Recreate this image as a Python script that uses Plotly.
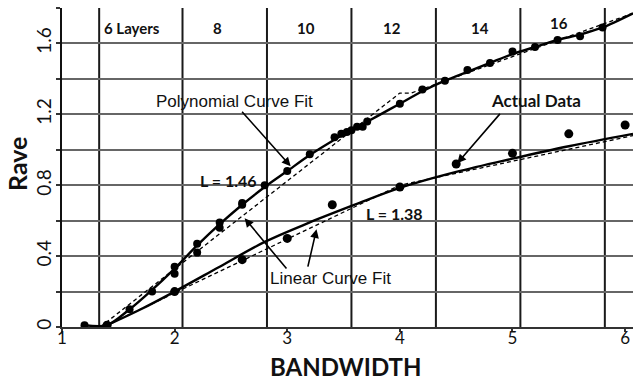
import plotly.graph_objects as go

# ---- data ----
upper_pts_x = [1.2, 1.4, 1.6, 1.8, 2.0, 2.0, 2.2, 2.2, 2.4, 2.4, 2.6, 2.6, 2.8, 3.0, 3.2,
               3.42, 3.48, 3.53, 3.57, 3.62, 3.67, 3.71, 4.0, 4.2, 4.4, 4.6, 4.8, 5.0,
               5.2, 5.4, 5.6, 5.8]
upper_pts_y = [0.01, 0.01, 0.10, 0.20, 0.34, 0.30, 0.47, 0.42, 0.59, 0.56, 0.70, 0.69, 0.80,
               0.88, 0.975, 1.07, 1.09, 1.10, 1.11, 1.13, 1.13, 1.16, 1.26, 1.34, 1.39, 1.45,
               1.49, 1.555, 1.58, 1.62, 1.64, 1.69]

lower_pts_x = [1.4, 2.0, 2.6, 3.0, 3.4, 4.0, 4.5, 5.0, 5.5, 6.0]
lower_pts_y = [0.01, 0.20, 0.38, 0.50, 0.69, 0.79, 0.92, 0.98, 1.09, 1.14]

upper_poly_x = [1.2, 1.4, 1.6, 1.8, 2.0, 2.2, 2.4, 2.6, 2.8, 3.0, 3.2, 3.4, 3.6, 3.8,
                4.0, 4.2, 4.4, 4.6, 4.8, 5.0, 5.2, 5.4, 5.6, 5.8, 6.07]
upper_poly_y = [0.01, 0.01, 0.10, 0.21, 0.33, 0.46, 0.58, 0.69, 0.79, 0.88, 0.97, 1.05,
                1.12, 1.19, 1.26, 1.33, 1.39, 1.44, 1.49, 1.54, 1.58, 1.62, 1.65, 1.69, 1.77]

lower_poly_x = [1.4, 1.7, 2.0, 2.4, 2.8, 3.2, 3.6, 4.0, 4.5, 5.0, 5.5, 6.07]
lower_poly_y = [0.01, 0.10, 0.20, 0.34, 0.48, 0.59, 0.69, 0.785, 0.875, 0.95, 1.02, 1.09]

upper_lin_x = [1.34, 4.0, 4.1, 6.07]
upper_lin_y = [0.0, 1.32, 1.32, 1.77]

lower_lin_x = [1.4, 4.0, 6.07]
lower_lin_y = [0.01, 0.80, 1.08]

layer_bounds = [1.33, 2.07, 2.82, 3.57, 4.32, 5.07, 5.82]
layer_labels = ["6 Layers", "8", "10", "12", "14", "16"]
layer_label_x = [1.62, 2.38, 3.17, 3.93, 4.71, 5.41]
layer_label_y = [1.685, 1.685, 1.685, 1.685, 1.685, 1.713]

y_ticks = [0, 0.2, 0.4, 0.6, 0.8, 1.0, 1.2, 1.4, 1.6, 1.8]
y_tick_text = ["0", "", "0.4", "", "0.8", "", "1.2", "", "1.6", ""]
x_ticks = [1, 2, 3, 4, 5, 6]
x_tick_text = ["1", "2", "3", "4", "5", "6"]

CAL = "Lato, 'Open Sans', sans-serif"
ARIAL = "'Liberation Sans', Arial, sans-serif"

fig = go.Figure()

fig.add_trace(go.Scatter(x=upper_lin_x, y=upper_lin_y, mode="lines",
                         line=dict(color="black", width=1.3, dash="4px,3px")))
fig.add_trace(go.Scatter(x=lower_lin_x, y=lower_lin_y, mode="lines",
                         line=dict(color="black", width=1.3, dash="4px,3px")))
fig.add_trace(go.Scatter(x=upper_poly_x, y=upper_poly_y, mode="lines",
                         line=dict(color="black", width=2.4, shape="spline", smoothing=0.8)))
fig.add_trace(go.Scatter(x=lower_poly_x, y=lower_poly_y, mode="lines",
                         line=dict(color="black", width=2.4, shape="spline", smoothing=1.0)))
fig.add_trace(go.Scatter(x=upper_pts_x, y=upper_pts_y, mode="markers",
                         marker=dict(color="black", size=8)))
fig.add_trace(go.Scatter(x=lower_pts_x, y=lower_pts_y, mode="markers",
                         marker=dict(color="black", size=9)))

for xb in layer_bounds:
    fig.add_vline(x=xb, line=dict(color="#1a1a1a", width=2), layer="below")

annotations = []
for t, lx, ly in zip(layer_labels, layer_label_x, layer_label_y):
    annotations.append(dict(x=lx, y=ly, text="<b>" + t + "</b>", showarrow=False,
                            font=dict(family=CAL, size=15, color="#111")))

def arrow(x, y, ax, ay):
    return dict(x=x, y=y, ax=ax, ay=ay, axref="x", ayref="y",
                text="", showarrow=True, arrowhead=2, arrowsize=1.1, arrowwidth=1.6,
                arrowcolor="black")

annotations += [
    dict(x=2.53, y=1.273, text="Polynomial Curve Fit", showarrow=False,
         font=dict(family=ARIAL, size=17, color="#111")),
    arrow(3.03, 0.907, 2.587, 1.223),
    dict(x=2.48, y=0.828, text="<b>L = 1.46</b>", showarrow=False,
         font=dict(family=CAL, size=16, color="#111")),
    dict(x=3.95, y=0.642, text="<b>L = 1.38</b>", showarrow=False,
         font=dict(family=CAL, size=16, color="#111")),
    dict(x=5.21, y=1.279, text="<b>Actual Data</b>", showarrow=False,
         font=dict(family=CAL, size=17, color="#111")),
    arrow(4.51, 0.924, 4.90, 1.211),
    dict(x=3.385, y=0.276, text="Linear Curve Fit", showarrow=False,
         font=dict(family=ARIAL, size=17, color="#111")),
    arrow(2.622, 0.614, 3.004, 0.321),
    arrow(3.26, 0.552, 3.18, 0.332),
]
for a in annotations:
    a["xref"] = "x"
    a["yref"] = "y"

annotations += [
    dict(x=-0.0788, y=0.511, xref="paper", yref="paper", xanchor="center", yanchor="middle",
         text="<b>Rave</b>", textangle=-90, showarrow=False,
         font=dict(family=CAL, size=25, color="#111")),
    dict(x=0.497, y=-0.1236, xref="paper", yref="paper", xanchor="center", yanchor="middle",
         text="<b>BANDWIDTH</b>", showarrow=False,
         font=dict(family=CAL, size=24, color="#111")),
]

fig.update_layout(
    width=633, height=381,
    margin=dict(l=62, r=0, t=8, b=54),
    paper_bgcolor="white", plot_bgcolor="white",
    showlegend=False,
    annotations=annotations,
    xaxis=dict(range=[1, 6.07], tickvals=x_ticks, ticktext=x_tick_text,
               showgrid=False, zeroline=False, showline=True, linecolor="#333", linewidth=2,
               ticks="outside", ticklen=3, tickwidth=1.5, tickcolor="#333",
               ticklabelstandoff=-8,
               tickfont=dict(family=CAL, size=17, color="#111")),
    yaxis=dict(range=[0, 1.8], tickvals=y_ticks, ticktext=y_tick_text, tickangle=-90,
               showgrid=True, gridcolor="#666", gridwidth=1.5, zeroline=False,
               showline=True, linecolor="#111", linewidth=2,
               ticks="outside", ticklen=4, tickwidth=1.5, tickcolor="#333",
               ticklabelstandoff=-3,
               tickfont=dict(family=CAL, size=19, color="#111")),
)

fig.write_html("out.html")
